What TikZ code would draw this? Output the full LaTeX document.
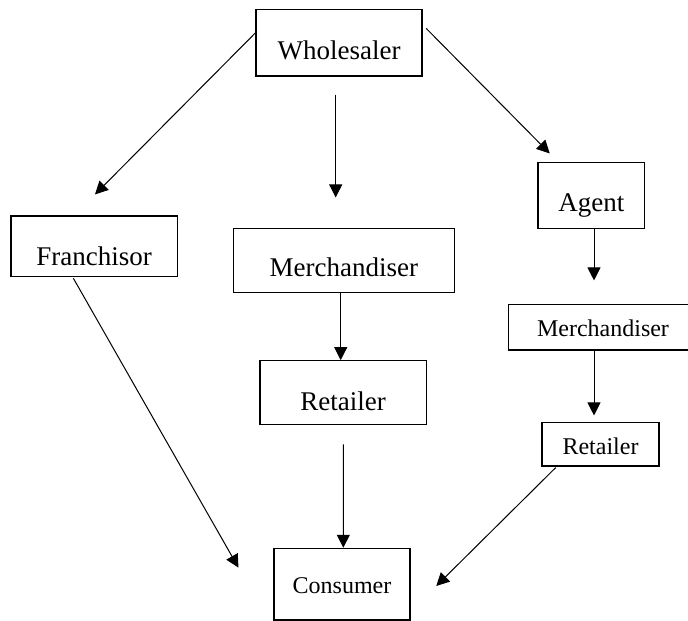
\documentclass[tikz,border=0pt]{standalone}
\usepackage{fontspec}
\setmainfont{Liberation Serif}
\usetikzlibrary{arrows.meta,calc}
\begin{document}
\begin{tikzpicture}[x=1pt,y=-1pt,
  box/.style={draw, line width=1.1pt, rectangle, inner sep=0pt, anchor=base},
  big/.style={font=\fontsize{27}{30}\selectfont},
  small/.style={font=\fontsize{24}{27}\selectfont},
  arr/.style={line width=1pt, -{Triangle[length=13pt,width=13pt]}}]
\useasboundingbox (0,0) rectangle (688,621);
% boxes
\node[box,big,minimum width=166pt,text height=50pt,text depth=16.7pt] (w) at (339,59.3) {Wholesaler};
\node[box,big,minimum width=166.3pt,text height=49.5pt,text depth=11.2pt] (f) at (94.15,265.5) {Franchisor};
\node[box,big,minimum width=221pt,text height=48.4pt,text depth=16pt] (mm) at (343.8,276.7) {Merchandiser};
\node[box,big,minimum width=166.3pt,text height=49.3pt,text depth=14.3pt] (mr) at (343.15,410) {Retailer};
\node[box,big,minimum width=106.7pt,text height=48.3pt,text depth=17.3pt] (ag) at (591.35,211) {Agent};
\node[box,small,minimum width=188.6pt,text height=32.4pt,text depth=13.3pt] (rm) at (603,336.7) {Merchandiser};
\node[box,small,minimum width=117pt,text height=31.6pt,text depth=11.7pt] (rr) at (600.5,454.3) {Retailer};
\node[box,small,minimum width=136pt,text height=45.4pt,text depth=26.3pt] (c) at (342,593.7) {Consumer};
% connectors
\draw[arr] ($(w.north west)!0.355!(w.south west)$) -- ($(f.north)+(0.85,-21)$);
\draw[arr] ($(w.south)+(-3.3,18)$) -- ($(mm.north)+(-8.1,-30.3)$);
\draw[arr] ($(w.north east)+(3.7,19.7)$) -- ($(ag.north)+(-41.6,-8.7)$);
\draw[arr] ($(ag.south)+(2.65,0)$) -- ($(rm.north)+(-9,-23.3)$);
\draw[arr] ($(mm.south)+(-3.1,0)$) -- ($(mr.north)+(-2.45,0)$);
\draw[arr] ($(rm.south)+(-9,0)$) -- ($(rr.north)+(-6.5,-6.7)$);
\draw[arr] ($(mr.south)+(0.15,19.4)$) -- ($(c.north)+(1.3,0)$);
\draw[arr] ($(f.south)+(-20.8,1)$) -- ($(c.west)+(-35,-16.5)$);
\draw[arr] ($(rr.south west)+(14.3,1)$) -- ($(c.east)+(25.7,1.85)$);
\end{tikzpicture}
\end{document}
